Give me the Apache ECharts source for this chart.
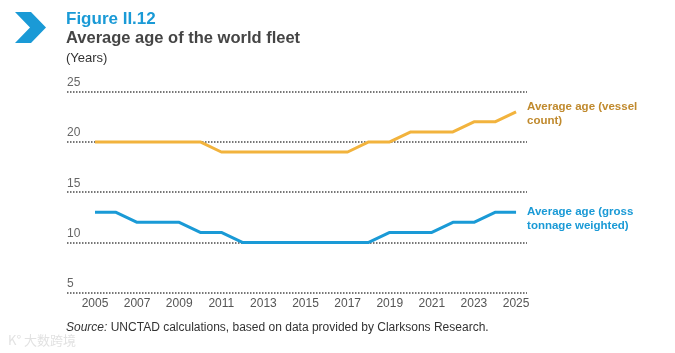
<!DOCTYPE html>
<html>
<head>
<meta charset="utf-8">
<script src="https://cdn.jsdelivr.net/npm/echarts@6/dist/echarts.min.js"></script>
<style>
  html, body { margin: 0; padding: 0; background: #fff; }
  #chart-container { width: 675px; height: 353px; }
</style>
</head>
<body>
<div id="chart-container"></div>
<script>
// Datos del gráfico
const years = [2005, 2006, 2007, 2008, 2009, 2010, 2011, 2012, 2013, 2014, 2015,
               2016, 2017, 2018, 2019, 2020, 2021, 2022, 2023, 2024, 2025];
const vesselCount = [20, 20, 20, 20, 20, 20, 19, 19, 19, 19, 19,
                     19, 19, 20, 20, 21, 21, 21, 22, 22, 23];
const tonnageWeighted = [13, 13, 12, 12, 12, 11, 11, 10, 10, 10, 10,
                         10, 10, 10, 11, 11, 11, 12, 12, 13, 13];
const xTickLabels = [2005, 2007, 2009, 2011, 2013, 2015, 2017, 2019, 2021, 2023, 2025];
const yTicks = [5, 10, 15, 20, 25];

const sans = '"Liberation Sans", Arial, sans-serif';
const orange = '#F2B33D';
const blue = '#1A9AD6';

function initChart() {
    const myChart = echarts.init(document.getElementById('chart-container'));

    const option = {
        animation: false,
        backgroundColor: '#ffffff',
        grid: { left: 67, right: 148, top: 91.7, bottom: 60.3 },
        graphic: [
            // icono de flecha
            {
                type: 'polygon',
                shape: { points: [[15, 12], [31, 12], [46, 27.5], [31, 43], [15, 43], [30, 27.5]] },
                style: { fill: blue }
            },
            {
                type: 'text', left: 66, top: 11,
                style: { text: 'Figure II.12', font: 'bold 17px ' + sans, fill: blue }
            },
            {
                type: 'text', left: 66, top: 30,
                style: { text: 'Average age of the world fleet', font: 'bold 16.5px ' + sans, fill: '#454545' }
            },
            {
                type: 'text', left: 66, top: 52,
                style: { text: '(Years)', font: '13px ' + sans, fill: '#333' }
            },
            {
                type: 'text', left: 66, top: 322,
                style: {
                    text: '{i|Source:} UNCTAD calculations, based on data provided by Clarksons Research.',
                    font: '12px ' + sans, fill: '#333',
                    rich: { i: { fontStyle: 'italic', fontSize: 12, fontFamily: sans, fill: '#333' } }
                }
            },
            {
                type: 'text', left: 8, top: 334,
                style: { text: 'K° 大数跨境', font: '13px "Noto Sans CJK SC", sans-serif', fill: '#e2e2e2' }
            }
        ],
        xAxis: {
            type: 'value',
            min: 2003.67,
            max: 2025.52,
            axisLine: { show: false },
            axisTick: { show: false },
            splitLine: { show: false },
            axisLabel: {
                customValues: xTickLabels,
                formatter: v => String(v),
                margin: 5,
                color: '#555',
                fontSize: 12,
                fontFamily: sans
            }
        },
        yAxis: {
            type: 'value',
            min: 5,
            max: 25,
            interval: 5,
            axisLine: { show: false },
            axisTick: { show: false },
            axisLabel: {
                inside: true,
                margin: 0,
                verticalAlign: 'bottom',
                padding: [0, 0, 3, 0],
                color: '#666',
                fontSize: 12,
                fontFamily: sans,
                formatter: v => yTicks.includes(v) ? String(v) : ''
            },
            splitLine: { lineStyle: { type: [1.5, 1.5], color: '#777', width: 2 } }
        },
        series: [
            {
                name: 'Average age (vessel count)',
                type: 'line',
                data: years.map((y, i) => [y, vesselCount[i]]),
                symbol: 'none',
                lineStyle: { color: orange, width: 3 },
                endLabel: {
                    show: true,
                    formatter: 'Average age (vessel\ncount)',
                    color: '#C08A2E',
                    fontWeight: 'bold',
                    fontSize: 11.5,
                    fontFamily: sans,
                    lineHeight: 14,
                    distance: 11,
                    offset: [0, 2]
                }
            },
            {
                name: 'Average age (gross tonnage weighted)',
                type: 'line',
                data: years.map((y, i) => [y, tonnageWeighted[i]]),
                symbol: 'none',
                lineStyle: { color: blue, width: 3 },
                endLabel: {
                    show: true,
                    formatter: 'Average age (gross\ntonnage weighted)',
                    color: blue,
                    fontWeight: 'bold',
                    fontSize: 11.5,
                    fontFamily: sans,
                    lineHeight: 14,
                    distance: 11,
                    offset: [0, 7]
                }
            }
        ]
    };

    myChart.setOption(option);
}

initChart();
</script>
</body>
</html>
